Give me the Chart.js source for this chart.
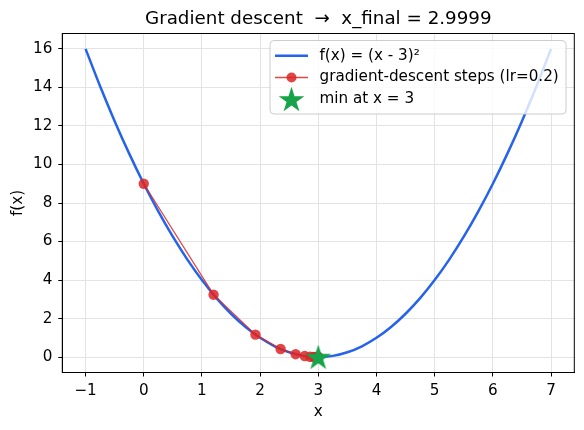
<!DOCTYPE html>
<html>
<head>
<meta charset="utf-8">
<script src="https://cdn.jsdelivr.net/npm/chart.js@4.4.1/dist/chart.umd.min.js"></script>
<style>
  html, body { margin: 0; padding: 0; background: #fff; }
  #wrap { width: 584px; height: 430px; position: relative; }
</style>
</head>
<body>
<div id="wrap"><canvas id="grafico"></canvas></div>
<script>
// curve f(x) = (x - 3)^2, sampled every 0.25
var curveX = [-1, -0.75, -0.5, -0.25, 0, 0.25, 0.5, 0.75, 1, 1.25, 1.5, 1.75, 2, 2.25, 2.5, 2.75, 3,
  3.25, 3.5, 3.75, 4, 4.25, 4.5, 4.75, 5, 5.25, 5.5, 5.75, 6, 6.25, 6.5, 6.75, 7];
var curveY = [16, 14.0625, 12.25, 10.5625, 9, 7.5625, 6.25, 5.0625, 4, 3.0625, 2.25, 1.5625, 1, 0.5625, 0.25, 0.0625, 0,
  0.0625, 0.25, 0.5625, 1, 1.5625, 2.25, 3.0625, 4, 5.0625, 6.25, 7.5625, 9, 10.5625, 12.25, 14.0625, 16];

// gradient descent steps (lr = 0.2)
var stepX = [0, 1.2, 1.92, 2.352, 2.611, 2.767, 2.860, 2.916, 2.950, 2.970, 2.982,
  2.989, 2.9935, 2.9961, 2.9977, 2.9986, 2.9992, 2.9995, 2.9997, 2.9998, 2.9999];
var stepY = [9, 3.24, 1.166, 0.420, 0.151, 0.054, 0.0196, 0.0071, 0.0025, 0.0009, 0.0003,
  0.0001, 0, 0, 0, 0, 0, 0, 0, 0, 0];

var minX = [3];
var minY = [0];

var xTicks = [-1, 0, 1, 2, 3, 4, 5, 6, 7];
var yTicks = [0, 2, 4, 6, 8, 10, 12, 14, 16];

var tituloTexto = 'Gradient descent  \u2192  x_final = 2.9999';
var labelsLegenda = ['f(x) = (x - 3)\u00b2', 'gradient-descent steps (lr=0.2)', 'min at x = 3'];

var FONTE = 'DejaVu Sans';
var TAM = 15.2;
var AZUL = '#2563eb';
var VERMELHO = 'rgba(220, 38, 38, 0.85)';
var VERDE = '#16a34a';

function pares(xs, ys) {
  var out = [];
  for (var i = 0; i < xs.length; i++) out.push({ x: xs[i], y: ys[i] });
  return out;
}

function desenhaEstrela(ctx, cx, cy, r) {
  var ri = r * 0.382;
  ctx.beginPath();
  for (var i = 0; i < 10; i++) {
    var ang = -Math.PI / 2 + i * Math.PI / 5;
    var rr = (i % 2 == 0) ? r : ri;
    var px = cx + rr * Math.cos(ang);
    var py = cy + rr * Math.sin(ang);
    if (i == 0) ctx.moveTo(px, py); else ctx.lineTo(px, py);
  }
  ctx.closePath();
  ctx.fillStyle = VERDE;
  ctx.fill();
}

// star marker image
var estrela = document.createElement('canvas');
estrela.width = 30;
estrela.height = 30;
desenhaEstrela(estrela.getContext('2d'), 15, 16, 13.5);

var decoracao = {
  id: 'decoracao',
  afterDatasetsDraw: function (chart) {
    var ctx = chart.ctx;
    var a = chart.chartArea;
    ctx.save();
    // spines
    ctx.strokeStyle = '#000';
    ctx.lineWidth = 1;
    ctx.strokeRect(a.left, a.top, a.right - a.left, a.bottom - a.top);

    // title
    ctx.fillStyle = '#000';
    ctx.font = '18.3px "' + FONTE + '"';
    ctx.textAlign = 'center';
    ctx.textBaseline = 'middle';
    ctx.fillText(tituloTexto, (a.left + a.right) / 2, 19);

    // legend
    var bx = 270, by = 40.5, bw = 296, bh = 73.5;
    ctx.beginPath();
    ctx.roundRect(bx, by, bw, bh, 4);
    ctx.fillStyle = 'rgba(255,255,255,0.8)';
    ctx.fill();
    ctx.strokeStyle = '#cccccc';
    ctx.stroke();

    var linhas = [55.7, 77.5, 99.3];
    var hx0 = 275, hx1 = 308, tx = 319.5;

    ctx.lineWidth = 2.5;
    ctx.strokeStyle = AZUL;
    ctx.beginPath();
    ctx.moveTo(hx0, linhas[0]);
    ctx.lineTo(hx1, linhas[0]);
    ctx.stroke();

    ctx.lineWidth = 1.3;
    ctx.strokeStyle = VERMELHO;
    ctx.beginPath();
    ctx.moveTo(hx0, linhas[1]);
    ctx.lineTo(hx1, linhas[1]);
    ctx.stroke();
    ctx.fillStyle = VERMELHO;
    ctx.beginPath();
    ctx.arc((hx0 + hx1) / 2, linhas[1], 5, 0, Math.PI * 2);
    ctx.fill();

    desenhaEstrela(ctx, (hx0 + hx1) / 2, linhas[2] + 1, 13.5);

    ctx.fillStyle = '#000';
    ctx.font = TAM + 'px "' + FONTE + '"';
    ctx.textAlign = 'left';
    ctx.textBaseline = 'middle';
    for (var i = 0; i < labelsLegenda.length; i++) {
      ctx.fillText(labelsLegenda[i], tx, linhas[i]);
    }
    ctx.restore();
  }
};

var ctx = document.getElementById('grafico').getContext('2d');
var grafico = new Chart(ctx, {
  type: 'scatter',
  data: {
    datasets: [{
      label: labelsLegenda[0],
      data: pares(curveX, curveY),
      showLine: true,
      borderColor: AZUL,
      borderWidth: 2.5,
      tension: 0.3,
      pointRadius: 0,
      order: 3
    }, {
      label: labelsLegenda[1],
      data: pares(stepX, stepY),
      showLine: true,
      borderColor: VERMELHO,
      borderWidth: 1.3,
      pointRadius: 5.2,
      pointBackgroundColor: VERMELHO,
      pointBorderWidth: 0,
      order: 2
    }, {
      label: labelsLegenda[2],
      data: pares(minX, minY),
      pointStyle: estrela,
      order: 1
    }]
  },
  options: {
    responsive: true,
    maintainAspectRatio: false,
    devicePixelRatio: 1,
    animation: false,
    layout: {
      padding: { top: 33.5, right: 9.7, left: 0, bottom: 0 }
    },
    plugins: {
      legend: { display: false },
      tooltip: { enabled: false }
    },
    scales: {
      x: {
        type: 'linear',
        min: -1.4,
        max: 7.4,
        afterBuildTicks: function (scale) {
          scale.ticks = xTicks.map(function (v) { return { value: v }; });
        },
        afterFit: function (scale) { scale.height = 57.5; },
        grid: { color: '#e3e3e3', tickColor: '#000', tickLength: 4, lineWidth: 1 },
        border: { color: '#000', width: 1 },
        ticks: {
          color: '#000',
          padding: 5,
          maxRotation: 0,
          font: { family: FONTE, size: TAM },
          callback: function (v) { return String(v).replace('-', '\u2212'); }
        },
        title: {
          display: true,
          text: 'x',
          color: '#000',
          font: { family: FONTE, size: TAM },
          padding: { top: 0, bottom: 9 }
        }
      },
      y: {
        type: 'linear',
        min: -0.8,
        max: 16.8,
        afterBuildTicks: function (scale) {
          scale.ticks = yTicks.map(function (v) { return { value: v }; });
        },
        afterFit: function (scale) { scale.width = 62.3; },
        grid: { color: '#e3e3e3', tickColor: '#000', tickLength: 4, lineWidth: 1 },
        border: { color: '#000', width: 1 },
        ticks: {
          color: '#000',
          padding: 6,
          font: { family: FONTE, size: TAM }
        },
        title: {
          display: true,
          text: 'f(x)',
          color: '#000',
          font: { family: FONTE, size: TAM },
          padding: { top: 9, bottom: 0 }
        }
      }
    }
  },
  plugins: [decoracao]
});
</script>
</body>
</html>
